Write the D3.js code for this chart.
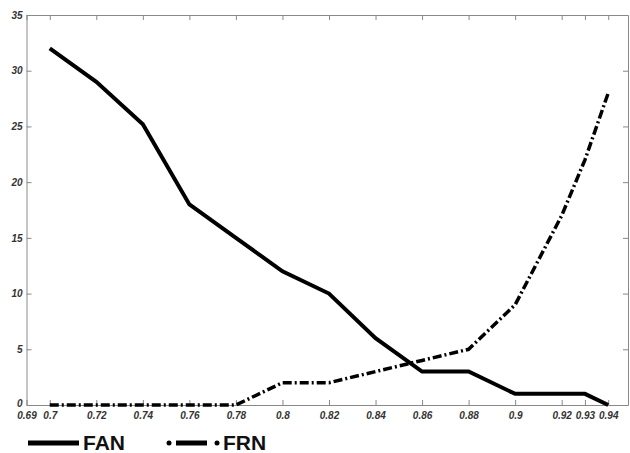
<!DOCTYPE html>
<html>
<head>
<meta charset="utf-8">
<script src="https://cdn.jsdelivr.net/npm/d3@7"></script>
<style>
  body { margin: 0; background: #fff; }
  .axis text { font-family: Arial, "Liberation Sans", sans-serif; font-size: 10px; font-style: italic; font-weight: bold; fill: #333; }
  .axis path, .axis line { stroke: #888; }
  .legend text { font-family: Arial, "Liberation Sans", sans-serif; font-size: 21px; font-weight: bold; fill: #111; }
</style>
</head>
<body>
<svg id="chart" width="630" height="453"></svg>
<script>
var thresholds = [0.7, 0.72, 0.74, 0.76, 0.78, 0.8, 0.82, 0.84, 0.86, 0.88, 0.9, 0.92, 0.93, 0.94];
var fan = [32, 29, 25.2, 18, 15, 12, 10, 6, 3, 3, 1, 1, 1, 0];
var frn = [0, 0, 0, 0, 0, 2, 2, 3, 4, 5, 9, 17, 22, 28];
var xTicks = [0.69, 0.7, 0.72, 0.74, 0.76, 0.78, 0.8, 0.82, 0.84, 0.86, 0.88, 0.9, 0.92, 0.93, 0.94];
var yTicks = [0, 5, 10, 15, 20, 25, 30, 35];

var svg = d3.select("#chart");
var plot = { left: 26.5, right: 628, top: 15, bottom: 405 };

var x = d3.scaleLinear().domain([0.69, 0.9485]).range([plot.left, plot.right]);
var y = d3.scaleLinear().domain([0, 35]).range([plot.bottom, plot.top]);

var fmt = function (d) { return String(+d.toFixed(2)); };

// box with inward ticks on every side, matlab style
svg.append("g").attr("class", "axis")
  .attr("transform", "translate(0," + plot.bottom + ")")
  .call(d3.axisBottom(x).tickValues(xTicks).tickFormat(fmt).tickSize(-5).tickSizeOuter(0).tickPadding(7));
svg.append("g").attr("class", "axis")
  .attr("transform", "translate(0," + plot.top + ")")
  .call(d3.axisTop(x).tickValues(xTicks).tickFormat("").tickSize(-5).tickSizeOuter(0));
var yAxis = svg.append("g").attr("class", "axis")
  .attr("transform", "translate(" + plot.left + ",0)")
  .call(d3.axisLeft(y).tickValues(yTicks).tickSize(-5).tickSizeOuter(0).tickPadding(4));
svg.append("g").attr("class", "axis")
  .attr("transform", "translate(" + plot.right + ",0)")
  .call(d3.axisRight(y).tickValues(yTicks).tickFormat("").tickSize(-5).tickSizeOuter(0));

svg.selectAll(".axis .domain").attr("stroke", "#888");

// the zero label sits a little above the corner so it clears 0.69
yAxis.selectAll(".tick text")
  .filter(function (d) { return d === 0; })
  .attr("dy", "0.1em");

var line = d3.line()
  .x(function (d) { return x(d[0]); })
  .y(function (d) { return y(d[1]); });

svg.append("path")
  .datum(d3.zip(thresholds, fan))
  .attr("d", line)
  .attr("fill", "none")
  .attr("stroke", "#000")
  .attr("stroke-width", 4);

svg.append("path")
  .datum(d3.zip(thresholds, frn))
  .attr("d", line)
  .attr("fill", "none")
  .attr("stroke", "#000")
  .attr("stroke-width", 3.5)
  .attr("stroke-dasharray", "9,3,2,3");

// legend
var legend = svg.append("g").attr("class", "legend");
legend.append("line")
  .attr("x1", 28).attr("x2", 79).attr("y1", 443).attr("y2", 443)
  .attr("stroke", "#000").attr("stroke-width", 5);
legend.append("text").attr("x", 83).attr("y", 450).text("FAN");

legend.append("circle").attr("cx", 169).attr("cy", 443).attr("r", 2.5).attr("fill", "#000");
legend.append("line")
  .attr("x1", 176).attr("x2", 207).attr("y1", 443).attr("y2", 443)
  .attr("stroke", "#000").attr("stroke-width", 5);
legend.append("circle").attr("cx", 217).attr("cy", 443).attr("r", 2.5).attr("fill", "#000");
legend.append("text").attr("x", 223).attr("y", 450).text("FRN");
</script>
</body>
</html>
